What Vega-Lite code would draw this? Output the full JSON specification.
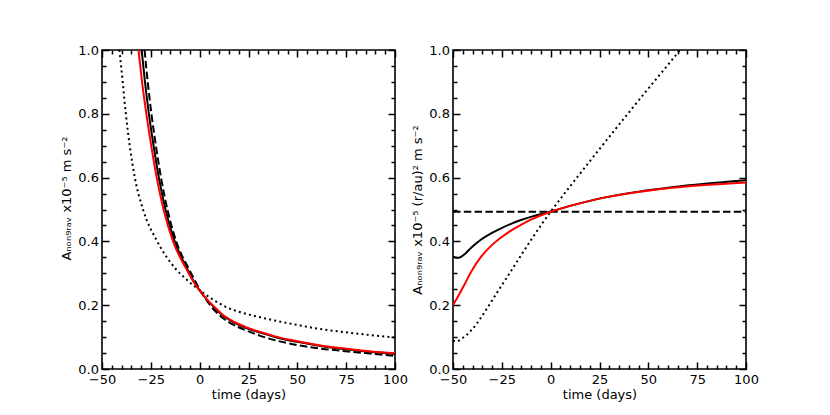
{
  "$schema": "https://vega.github.io/schema/vega-lite/v6.json",
  "background": "white",
  "padding": {"left": 60, "top": 43, "right": 0, "bottom": 0},
  "spacing": 2,
  "config": {
    "view": {"stroke": "black", "strokeWidth": 1.6},
    "axis": {
      "labelFont": "DejaVu Sans", "labelFontSize": 13, "labelColor": "black",
      "titleFont": "DejaVu Sans", "titleFontSize": 13, "titleFontWeight": "normal", "titleColor": "black",
      "tickColor": "black", "tickWidth": 1.5, "grid": false, "domain": false
    }
  },
  "datasets": {
    "left": [
      {"s": "dotted", "t": -41.1, "a": 1.0}, {"s": "dotted", "t": -39.4, "a": 0.9}, {"s": "dotted", "t": -37.8, "a": 0.8},
      {"s": "dotted", "t": -35.8, "a": 0.7}, {"s": "dotted", "t": -33.2, "a": 0.6}, {"s": "dotted", "t": -29.0, "a": 0.5},
      {"s": "dotted", "t": -22.2, "a": 0.405}, {"s": "dotted", "t": -17.0, "a": 0.352}, {"s": "dotted", "t": -12.0, "a": 0.312},
      {"s": "dotted", "t": -7.5, "a": 0.285}, {"s": "dotted", "t": -4.0, "a": 0.266}, {"s": "dotted", "t": 0, "a": 0.247},
      {"s": "dotted", "t": 7, "a": 0.217}, {"s": "dotted", "t": 14, "a": 0.193}, {"s": "dotted", "t": 22, "a": 0.176},
      {"s": "dotted", "t": 31, "a": 0.162}, {"s": "dotted", "t": 40, "a": 0.15}, {"s": "dotted", "t": 50, "a": 0.138},
      {"s": "dotted", "t": 63, "a": 0.124}, {"s": "dotted", "t": 75, "a": 0.115}, {"s": "dotted", "t": 88, "a": 0.106},
      {"s": "dotted", "t": 100, "a": 0.099},

      {"s": "dashed", "t": -28.2, "a": 1.0}, {"s": "dashed", "t": -26.6, "a": 0.9}, {"s": "dashed", "t": -24.7, "a": 0.8},
      {"s": "dashed", "t": -22.4, "a": 0.7}, {"s": "dashed", "t": -19.8, "a": 0.6}, {"s": "dashed", "t": -16.5, "a": 0.5},
      {"s": "dashed", "t": -12.0, "a": 0.4}, {"s": "dashed", "t": -5.2, "a": 0.31}, {"s": "dashed", "t": -1.8, "a": 0.27},
      {"s": "dashed", "t": 0, "a": 0.249}, {"s": "dashed", "t": 3.5, "a": 0.216}, {"s": "dashed", "t": 7, "a": 0.188},
      {"s": "dashed", "t": 11.2, "a": 0.163}, {"s": "dashed", "t": 17.2, "a": 0.139}, {"s": "dashed", "t": 25, "a": 0.118},
      {"s": "dashed", "t": 31, "a": 0.104}, {"s": "dashed", "t": 40, "a": 0.088}, {"s": "dashed", "t": 50, "a": 0.075},
      {"s": "dashed", "t": 62, "a": 0.064}, {"s": "dashed", "t": 76, "a": 0.055}, {"s": "dashed", "t": 88, "a": 0.048},
      {"s": "dashed", "t": 100, "a": 0.041},

      {"s": "solid", "t": -29.7, "a": 1.0}, {"s": "solid", "t": -28.0, "a": 0.9}, {"s": "solid", "t": -26.0, "a": 0.8},
      {"s": "solid", "t": -23.6, "a": 0.7}, {"s": "solid", "t": -20.9, "a": 0.6}, {"s": "solid", "t": -17.5, "a": 0.5},
      {"s": "solid", "t": -12.8, "a": 0.4}, {"s": "solid", "t": -6.0, "a": 0.31}, {"s": "solid", "t": -3.0, "a": 0.274},
      {"s": "solid", "t": 0, "a": 0.246}, {"s": "solid", "t": 3.5, "a": 0.219}, {"s": "solid", "t": 7, "a": 0.196},
      {"s": "solid", "t": 11.2, "a": 0.171}, {"s": "solid", "t": 17.2, "a": 0.147}, {"s": "solid", "t": 25, "a": 0.126},
      {"s": "solid", "t": 31, "a": 0.114}, {"s": "solid", "t": 40, "a": 0.098}, {"s": "solid", "t": 50, "a": 0.085},
      {"s": "solid", "t": 62, "a": 0.072}, {"s": "solid", "t": 76, "a": 0.061}, {"s": "solid", "t": 88, "a": 0.053},
      {"s": "solid", "t": 100, "a": 0.047},

      {"s": "red", "t": -31.3, "a": 1.0}, {"s": "red", "t": -29.5, "a": 0.9}, {"s": "red", "t": -27.3, "a": 0.8},
      {"s": "red", "t": -24.8, "a": 0.7}, {"s": "red", "t": -22.0, "a": 0.6}, {"s": "red", "t": -18.5, "a": 0.5},
      {"s": "red", "t": -13.6, "a": 0.4}, {"s": "red", "t": -6.5, "a": 0.31}, {"s": "red", "t": -3.0, "a": 0.272},
      {"s": "red", "t": 0, "a": 0.247}, {"s": "red", "t": 3.5, "a": 0.22}, {"s": "red", "t": 7, "a": 0.198},
      {"s": "red", "t": 11.2, "a": 0.173}, {"s": "red", "t": 17.2, "a": 0.149}, {"s": "red", "t": 25, "a": 0.128},
      {"s": "red", "t": 31, "a": 0.116}, {"s": "red", "t": 40, "a": 0.1}, {"s": "red", "t": 50, "a": 0.087},
      {"s": "red", "t": 62, "a": 0.074}, {"s": "red", "t": 76, "a": 0.063}, {"s": "red", "t": 88, "a": 0.055},
      {"s": "red", "t": 100, "a": 0.049}
    ],
    "right": [
      {"s": "dotted", "t": -50, "a": 0.09}, {"s": "dotted", "t": -48.5, "a": 0.087}, {"s": "dotted", "t": -47, "a": 0.089},
      {"s": "dotted", "t": -45.5, "a": 0.095}, {"s": "dotted", "t": -43.2, "a": 0.106}, {"s": "dotted", "t": -40.7, "a": 0.121},
      {"s": "dotted", "t": -38.1, "a": 0.14}, {"s": "dotted", "t": -35.6, "a": 0.162}, {"s": "dotted", "t": -30.5, "a": 0.21},
      {"s": "dotted", "t": -25.4, "a": 0.259}, {"s": "dotted", "t": -20.3, "a": 0.307}, {"s": "dotted", "t": -15.2, "a": 0.356},
      {"s": "dotted", "t": -10.1, "a": 0.404}, {"s": "dotted", "t": -4.9, "a": 0.451}, {"s": "dotted", "t": 0, "a": 0.493},
      {"s": "dotted", "t": 10, "a": 0.573}, {"s": "dotted", "t": 20, "a": 0.651}, {"s": "dotted", "t": 30, "a": 0.728},
      {"s": "dotted", "t": 40, "a": 0.804}, {"s": "dotted", "t": 50, "a": 0.879}, {"s": "dotted", "t": 60, "a": 0.953},
      {"s": "dotted", "t": 66.2, "a": 1.0},

      {"s": "dashed", "t": -50, "a": 0.493}, {"s": "dashed", "t": 100, "a": 0.493},

      {"s": "solid", "t": -50, "a": 0.353}, {"s": "solid", "t": -48.5, "a": 0.349}, {"s": "solid", "t": -47, "a": 0.349},
      {"s": "solid", "t": -45.5, "a": 0.353}, {"s": "solid", "t": -44, "a": 0.36}, {"s": "solid", "t": -40.7, "a": 0.38},
      {"s": "solid", "t": -35.6, "a": 0.406}, {"s": "solid", "t": -30.5, "a": 0.425}, {"s": "solid", "t": -25.4, "a": 0.441},
      {"s": "solid", "t": -20.3, "a": 0.455}, {"s": "solid", "t": -15.2, "a": 0.467}, {"s": "solid", "t": -10.1, "a": 0.477},
      {"s": "solid", "t": -4.9, "a": 0.486}, {"s": "solid", "t": 0, "a": 0.494}, {"s": "solid", "t": 11, "a": 0.513},
      {"s": "solid", "t": 28, "a": 0.538}, {"s": "solid", "t": 45, "a": 0.556}, {"s": "solid", "t": 62, "a": 0.57},
      {"s": "solid", "t": 79, "a": 0.581}, {"s": "solid", "t": 100, "a": 0.592},

      {"s": "red", "t": -50, "a": 0.2}, {"s": "red", "t": -48.5, "a": 0.216}, {"s": "red", "t": -46.8, "a": 0.234},
      {"s": "red", "t": -44.1, "a": 0.265}, {"s": "red", "t": -40.7, "a": 0.305}, {"s": "red", "t": -35.6, "a": 0.352},
      {"s": "red", "t": -30.5, "a": 0.386}, {"s": "red", "t": -25.4, "a": 0.412}, {"s": "red", "t": -20.3, "a": 0.434},
      {"s": "red", "t": -15.2, "a": 0.452}, {"s": "red", "t": -10.1, "a": 0.468}, {"s": "red", "t": -4.9, "a": 0.482},
      {"s": "red", "t": 0, "a": 0.493}, {"s": "red", "t": 11, "a": 0.513}, {"s": "red", "t": 28, "a": 0.538},
      {"s": "red", "t": 45, "a": 0.555}, {"s": "red", "t": 62, "a": 0.568}, {"s": "red", "t": 79, "a": 0.577},
      {"s": "red", "t": 100, "a": 0.585}
    ]
  },
  "hconcat": [
    {
      "width": 293, "height": 319,
      "data": {"name": "left"},
      "layer": [
        {
          "transform": [{"filter": "datum.s === 'dotted'"}],
          "mark": {"type": "line", "clip": true, "stroke": "black", "strokeWidth": 2, "strokeDash": [2, 3.2], "interpolate": "monotone"},
          "encoding": {
            "x": {"field": "t", "type": "quantitative", "scale": {"domain": [-50, 100], "nice": false, "zero": false}, "axis": null},
            "y": {"field": "a", "type": "quantitative", "scale": {"domain": [0, 1], "nice": false, "zero": false}, "axis": null}
          }
        },
        {
          "transform": [{"filter": "datum.s === 'dashed'"}],
          "mark": {"type": "line", "clip": true, "stroke": "black", "strokeWidth": 2, "strokeDash": [7.5, 3.3], "interpolate": "monotone"},
          "encoding": {
            "x": {"field": "t", "type": "quantitative", "axis": null},
            "y": {"field": "a", "type": "quantitative", "axis": null}
          }
        },
        {
          "transform": [{"filter": "datum.s === 'solid'"}],
          "mark": {"type": "line", "clip": true, "stroke": "black", "strokeWidth": 2, "interpolate": "monotone"},
          "encoding": {
            "x": {"field": "t", "type": "quantitative", "axis": null},
            "y": {"field": "a", "type": "quantitative", "axis": null}
          }
        },
        {
          "transform": [{"filter": "datum.s === 'red'"}],
          "mark": {"type": "line", "clip": true, "stroke": "#ff0000", "strokeWidth": 2, "interpolate": "monotone"},
          "encoding": {
            "x": {"field": "t", "type": "quantitative", "axis": null},
            "y": {"field": "a", "type": "quantitative", "axis": null}
          }
        },
        {
          "transform": [{"filter": "datum.s === 'dashed'"}],
          "mark": {"type": "point", "opacity": 0},
          "encoding": {
            "x": {"field": "t", "type": "quantitative",
              "axis": {"orient": "bottom", "values": [-50, -25, 0, 25, 50, 75, 100], "format": "d",
                "tickSize": -7, "labelPadding": 11, "labelFlush": false, "title": "time (days)", "titlePadding": 2}},
            "y": {"field": "a", "type": "quantitative",
              "axis": {"orient": "left", "values": [0, 0.2, 0.4, 0.6, 0.8, 1.0], "format": ".1f",
                "tickSize": -7, "labelPadding": 10.5, "labelFlush": false, "title": "Aₙₒₙ₉ᵣₐᵥ x10⁻⁵ m s⁻²", "titlePadding": 4, "titleY": 148}}
          }
        },
        {
          "transform": [{"filter": "datum.s === 'dashed'"}],
          "mark": {"type": "point", "opacity": 0},
          "encoding": {
            "x": {"field": "t", "type": "quantitative",
              "axis": {"orient": "bottom", "values": [-45, -40, -35, -30, -20, -15, -10, -5, 5, 10, 15, 20, 30, 35, 40, 45, 55, 60, 65, 70, 80, 85, 90, 95],
                "tickSize": -4, "labels": false, "title": null}},
            "y": {"field": "a", "type": "quantitative",
              "axis": {"orient": "left", "values": [0.05, 0.1, 0.15, 0.25, 0.3, 0.35, 0.45, 0.5, 0.55, 0.65, 0.7, 0.75, 0.85, 0.9, 0.95],
                "tickSize": -4, "labels": false, "title": null}}
          }
        },
        {
          "transform": [{"filter": "datum.s === 'dashed'"}],
          "mark": {"type": "point", "opacity": 0},
          "encoding": {
            "x": {"field": "t", "type": "quantitative",
              "axis": {"orient": "top", "values": [-50, -25, 0, 25, 50, 75, 100], "tickSize": -7, "labels": false, "title": null}},
            "y": {"field": "a", "type": "quantitative",
              "axis": {"orient": "right", "values": [0, 0.2, 0.4, 0.6, 0.8, 1.0], "tickSize": -7, "labels": false, "title": null}}
          }
        },
        {
          "transform": [{"filter": "datum.s === 'dashed'"}],
          "mark": {"type": "point", "opacity": 0},
          "encoding": {
            "x": {"field": "t", "type": "quantitative",
              "axis": {"orient": "top", "values": [-45, -40, -35, -30, -20, -15, -10, -5, 5, 10, 15, 20, 30, 35, 40, 45, 55, 60, 65, 70, 80, 85, 90, 95],
                "tickSize": -4, "labels": false, "title": null}},
            "y": {"field": "a", "type": "quantitative",
              "axis": {"orient": "right", "values": [0.05, 0.1, 0.15, 0.25, 0.3, 0.35, 0.45, 0.5, 0.55, 0.65, 0.7, 0.75, 0.85, 0.9, 0.95],
                "tickSize": -4, "labels": false, "title": null}}
          }
        }
      ],
      "resolve": {"axis": {"x": "independent", "y": "independent"}}
    },
    {
      "width": 293, "height": 319,
      "data": {"name": "right"},
      "layer": [
        {
          "transform": [{"filter": "datum.s === 'dotted'"}],
          "mark": {"type": "line", "clip": true, "stroke": "black", "strokeWidth": 2, "strokeDash": [2, 3.2], "interpolate": "monotone"},
          "encoding": {
            "x": {"field": "t", "type": "quantitative", "scale": {"domain": [-50, 100], "nice": false, "zero": false}, "axis": null},
            "y": {"field": "a", "type": "quantitative", "scale": {"domain": [0, 1], "nice": false, "zero": false}, "axis": null}
          }
        },
        {
          "transform": [{"filter": "datum.s === 'dashed'"}],
          "mark": {"type": "line", "clip": true, "stroke": "black", "strokeWidth": 2, "strokeDash": [7.5, 3.3]},
          "encoding": {
            "x": {"field": "t", "type": "quantitative", "axis": null},
            "y": {"field": "a", "type": "quantitative", "axis": null}
          }
        },
        {
          "transform": [{"filter": "datum.s === 'solid'"}],
          "mark": {"type": "line", "clip": true, "stroke": "black", "strokeWidth": 2, "interpolate": "monotone"},
          "encoding": {
            "x": {"field": "t", "type": "quantitative", "axis": null},
            "y": {"field": "a", "type": "quantitative", "axis": null}
          }
        },
        {
          "transform": [{"filter": "datum.s === 'red'"}],
          "mark": {"type": "line", "clip": true, "stroke": "#ff0000", "strokeWidth": 2, "interpolate": "monotone"},
          "encoding": {
            "x": {"field": "t", "type": "quantitative", "axis": null},
            "y": {"field": "a", "type": "quantitative", "axis": null}
          }
        },
        {
          "transform": [{"filter": "datum.s === 'dashed'"}],
          "mark": {"type": "point", "opacity": 0},
          "encoding": {
            "x": {"field": "t", "type": "quantitative",
              "axis": {"orient": "bottom", "values": [-50, -25, 0, 25, 50, 75, 100], "format": "d",
                "tickSize": -7, "labelPadding": 11, "labelFlush": false, "title": "time (days)", "titlePadding": 2}},
            "y": {"field": "a", "type": "quantitative",
              "axis": {"orient": "left", "values": [0, 0.2, 0.4, 0.6, 0.8, 1.0], "format": ".1f",
                "tickSize": -7, "labelPadding": 10.5, "labelFlush": false, "title": "Aₙₒₙ₉ᵣₐᵥ x10⁻⁵ (r/au)² m s⁻²", "titlePadding": 4}}
          }
        },
        {
          "transform": [{"filter": "datum.s === 'dashed'"}],
          "mark": {"type": "point", "opacity": 0},
          "encoding": {
            "x": {"field": "t", "type": "quantitative",
              "axis": {"orient": "bottom", "values": [-45, -40, -35, -30, -20, -15, -10, -5, 5, 10, 15, 20, 30, 35, 40, 45, 55, 60, 65, 70, 80, 85, 90, 95],
                "tickSize": -4, "labels": false, "title": null}},
            "y": {"field": "a", "type": "quantitative",
              "axis": {"orient": "left", "values": [0.05, 0.1, 0.15, 0.25, 0.3, 0.35, 0.45, 0.5, 0.55, 0.65, 0.7, 0.75, 0.85, 0.9, 0.95],
                "tickSize": -4, "labels": false, "title": null}}
          }
        },
        {
          "transform": [{"filter": "datum.s === 'dashed'"}],
          "mark": {"type": "point", "opacity": 0},
          "encoding": {
            "x": {"field": "t", "type": "quantitative",
              "axis": {"orient": "top", "values": [-50, -25, 0, 25, 50, 75, 100], "tickSize": -7, "labels": false, "title": null}},
            "y": {"field": "a", "type": "quantitative",
              "axis": {"orient": "right", "values": [0, 0.2, 0.4, 0.6, 0.8, 1.0], "tickSize": -7, "labels": false, "title": null}}
          }
        },
        {
          "transform": [{"filter": "datum.s === 'dashed'"}],
          "mark": {"type": "point", "opacity": 0},
          "encoding": {
            "x": {"field": "t", "type": "quantitative",
              "axis": {"orient": "top", "values": [-45, -40, -35, -30, -20, -15, -10, -5, 5, 10, 15, 20, 30, 35, 40, 45, 55, 60, 65, 70, 80, 85, 90, 95],
                "tickSize": -4, "labels": false, "title": null}},
            "y": {"field": "a", "type": "quantitative",
              "axis": {"orient": "right", "values": [0.05, 0.1, 0.15, 0.25, 0.3, 0.35, 0.45, 0.5, 0.55, 0.65, 0.7, 0.75, 0.85, 0.9, 0.95],
                "tickSize": -4, "labels": false, "title": null}}
          }
        }
      ],
      "resolve": {"axis": {"x": "independent", "y": "independent"}}
    }
  ]
}
